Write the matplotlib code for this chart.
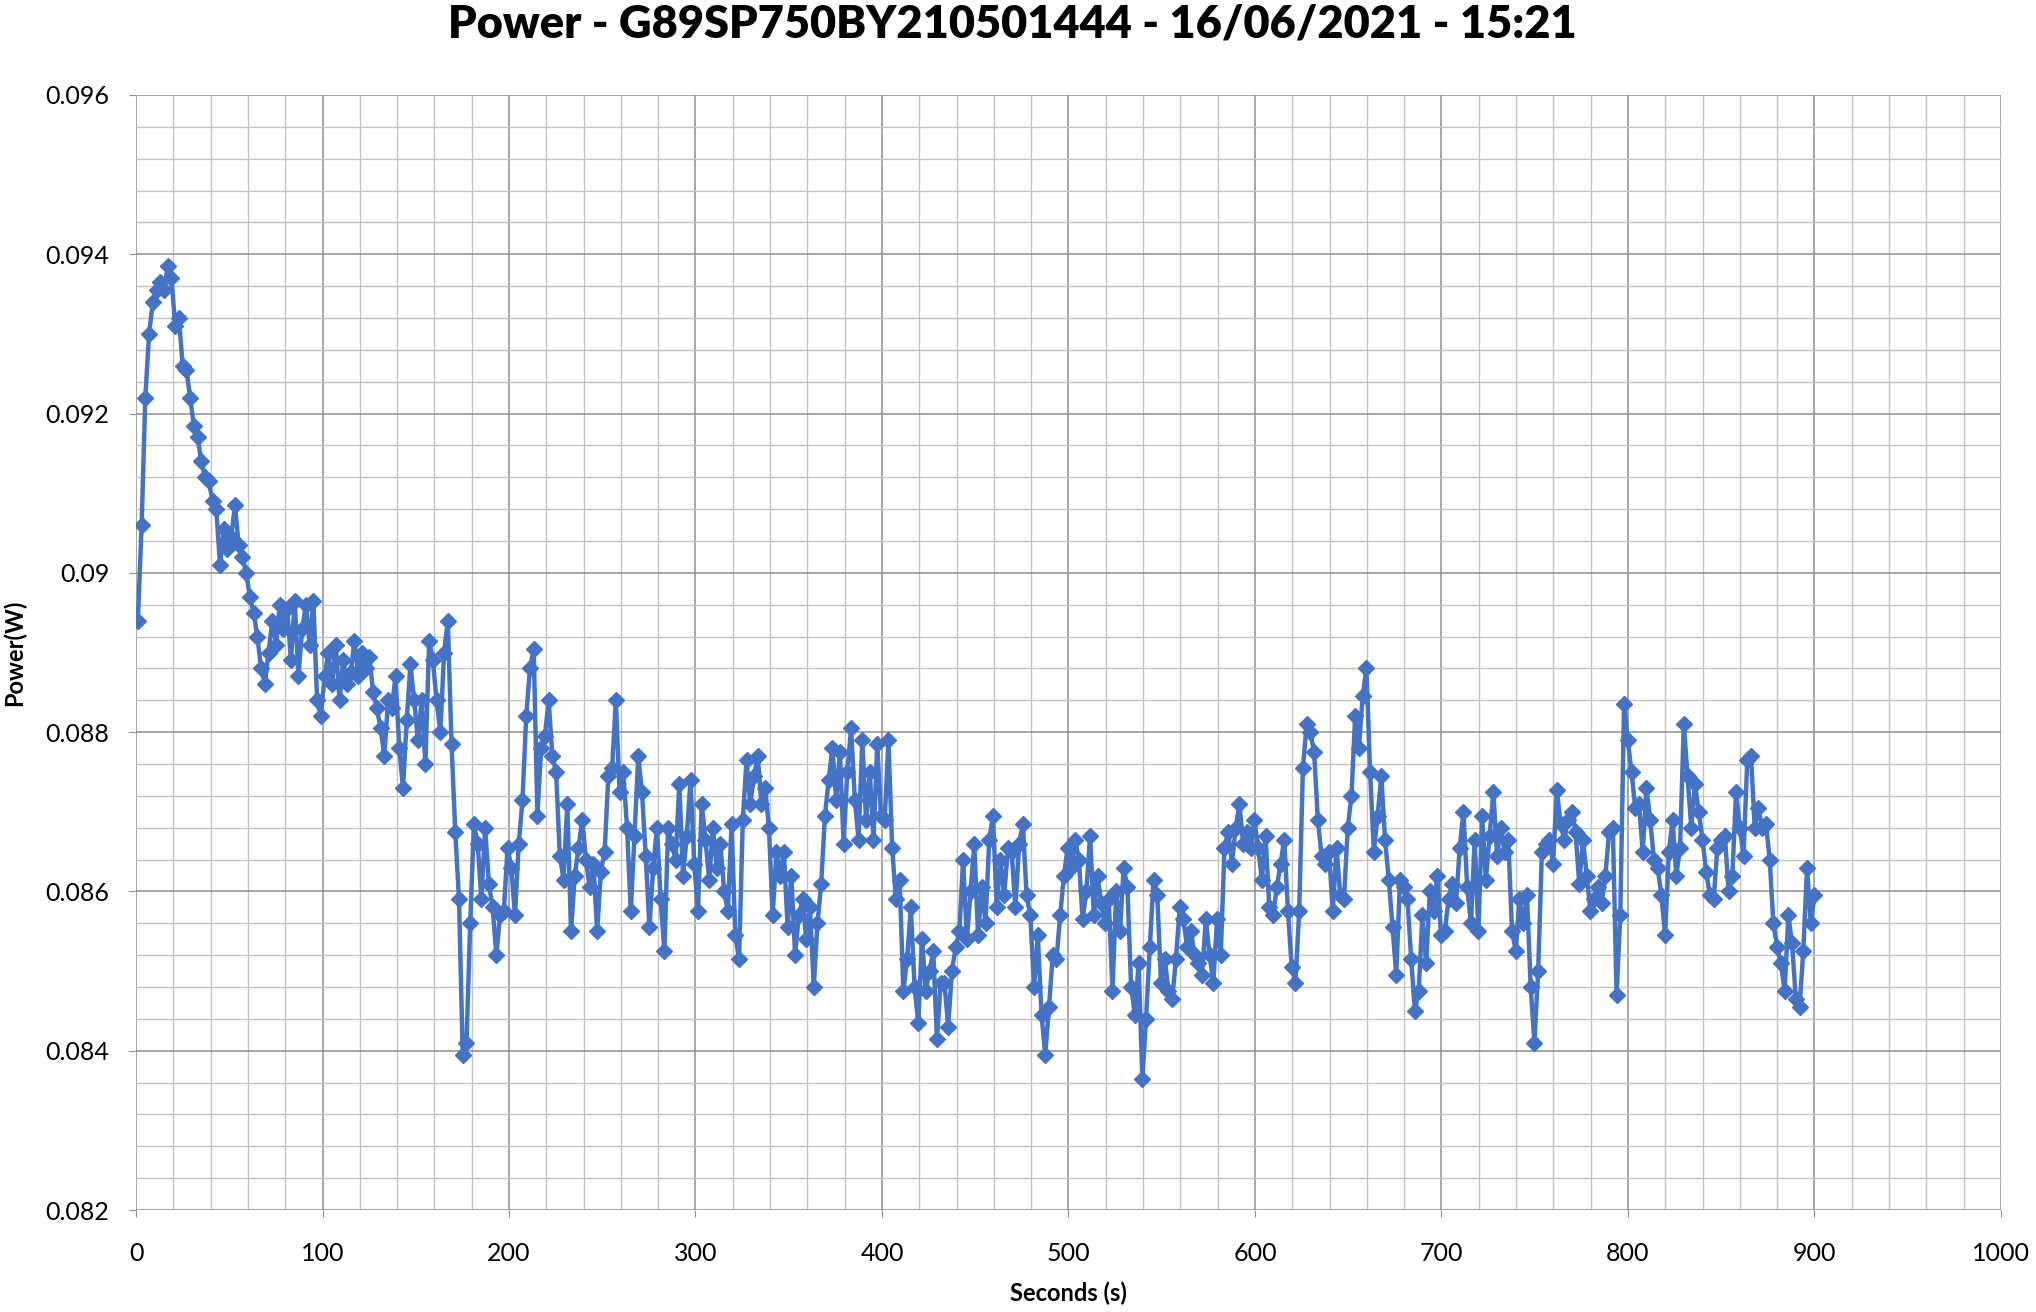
import numpy as np
import matplotlib
matplotlib.use("Agg")
import matplotlib.pyplot as plt
from matplotlib.ticker import MultipleLocator, FixedLocator

# power readings in mW, one every ~2 s from 1 s to 900 s
power_mw = [
    # 0-100 s
    89.4, 90.6, 92.2, 93.0, 93.4, 93.55, 93.65, 93.55, 93.85, 93.7,
    93.1, 93.2, 92.6, 92.55, 92.2, 91.85, 91.7, 91.4, 91.2, 91.15,
    90.9, 90.8, 90.1, 90.55, 90.3, 90.45, 90.85, 90.35, 90.2, 90.0,
    89.7, 89.5, 89.2, 88.8, 88.6, 89.0, 89.4, 89.1, 89.6, 89.3,
    89.55, 88.9, 89.65, 88.7, 89.3, 89.6, 89.1, 89.65, 88.4, 88.2,
    # 100-200 s
    88.7, 89.0, 88.6, 89.1, 88.4, 88.9, 88.6, 88.75, 89.15, 88.7,
    89.0, 88.8, 88.95, 88.5, 88.3, 88.05, 87.7, 88.4, 88.3, 88.7,
    87.8, 87.3, 88.15, 88.85, 88.4, 87.9, 88.4, 87.6, 89.15, 88.9,
    88.4, 88.0, 89.0, 89.4, 87.85, 86.75, 85.9, 83.95, 84.1, 85.6,
    86.85, 86.6, 85.9, 86.8, 86.1, 85.8, 85.2, 85.7, 85.75, 86.55,
    # 200-300 s
    86.3, 85.7, 86.6, 87.15, 88.2, 88.8, 89.05, 86.95, 87.8, 87.95,
    88.4, 87.7, 87.5, 86.45, 86.15, 87.1, 85.5, 86.2, 86.55, 86.9,
    86.4, 86.05, 86.35, 85.5, 86.25, 86.5, 87.45, 87.55, 88.4, 87.25,
    87.5, 86.8, 85.75, 86.7, 87.7, 87.25, 86.45, 85.55, 86.3, 86.8,
    85.9, 85.25, 86.8, 86.6, 86.4, 87.35, 86.2, 86.7, 87.4, 86.35,
    # 300-400 s
    85.75, 87.1, 86.65, 86.15, 86.8, 86.3, 86.6, 86.0, 85.75, 86.85,
    85.45, 85.15, 86.9, 87.65, 87.1, 87.45, 87.7, 87.1, 87.3, 86.8,
    85.7, 86.5, 86.2, 86.5, 85.55, 86.2, 85.2, 85.7, 85.9, 85.4,
    85.8, 84.8, 85.6, 86.1, 86.95, 87.4, 87.8, 87.15, 87.75, 86.6,
    87.5, 88.05, 87.15, 86.65, 87.9, 86.9, 87.5, 86.65, 87.85, 86.95,
    # 400-500 s
    86.9, 87.9, 86.55, 85.9, 86.15, 84.75, 85.15, 85.8, 84.8, 84.35,
    85.4, 84.75, 85.0, 85.25, 84.15, 84.85, 84.85, 84.3, 85.0, 85.3,
    85.5, 86.4, 85.4, 86.0, 86.6, 85.45, 86.05, 85.6, 86.65, 86.95,
    85.8, 86.4, 85.95, 86.55, 86.5, 85.8, 86.6, 86.85, 85.95, 85.7,
    84.8, 85.45, 84.45, 83.95, 84.55, 85.2, 85.15, 85.7, 86.2, 86.55,
    # 500-600 s
    86.3, 86.65, 86.4, 85.65, 86.0, 86.7, 85.7, 86.2, 85.85, 85.6,
    85.9, 84.75, 86.0, 85.5, 86.3, 86.05, 84.8, 84.45, 85.1, 83.65,
    84.4, 85.3, 86.15, 85.95, 84.85, 85.15, 84.75, 84.65, 85.15, 85.8,
    85.65, 85.3, 85.5, 85.2, 85.1, 84.95, 85.65, 85.2, 84.85, 85.65,
    85.2, 86.55, 86.75, 86.35, 86.8, 87.1, 86.6, 86.75, 86.55, 86.9,
    # 600-700 s
    86.55, 86.15, 86.7, 85.8, 85.7, 86.05, 86.35, 86.65, 85.75, 85.05,
    84.85, 85.75, 87.55, 88.1, 88.0, 87.75, 86.9, 86.45, 86.35, 86.5,
    85.75, 86.55, 85.95, 85.9, 86.8, 87.2, 88.2, 87.8, 88.45, 88.8,
    87.5, 86.5, 86.95, 87.45, 86.65, 86.15, 85.55, 84.95, 86.15, 86.05,
    85.9, 85.15, 84.5, 84.75, 85.7, 85.1, 86.0, 85.75, 86.2, 85.45,
    # 700-800 s
    85.5, 85.9, 86.1, 85.85, 86.55, 87.0, 86.05, 85.6, 86.65, 85.5,
    86.95, 86.15, 86.7, 87.25, 86.45, 86.8, 86.5, 86.65, 85.5, 85.25,
    85.9, 85.6, 85.95, 84.8, 84.1, 85.0, 86.5, 86.6, 86.65, 86.35,
    87.28, 86.85, 86.65, 86.9, 87.0, 86.75, 86.1, 86.65, 86.2, 85.75,
    85.9, 86.05, 85.85, 86.2, 86.75, 86.8, 84.7, 85.7, 88.35, 87.9,
    # 800-900 s
    87.5, 87.05, 87.1, 86.5, 87.3, 86.9, 86.4, 86.3, 85.95, 85.45,
    86.5, 86.9, 86.2, 86.55, 88.1, 87.45, 86.8, 87.35, 87.0, 86.65,
    86.25, 85.95, 85.9, 86.55, 86.65, 86.7, 86.0, 86.2, 87.25, 86.8,
    86.45, 87.65, 87.7, 86.8, 87.05, 86.8, 86.85, 86.4, 85.6, 85.3,
    85.1, 84.75, 85.7, 85.35, 84.65, 84.55, 85.25, 86.3, 85.6, 85.95,
]
power = np.array(power_mw) / 1000.0
seconds = np.linspace(1, 900, len(power))

title = "Power - G89SP750BY210501444 - 16/06/2021 - 15:21"
x_ticks = [0, 100, 200, 300, 400, 500, 600, 700, 800, 900, 1000]
y_ticks = [0.082, 0.084, 0.086, 0.088, 0.09, 0.092, 0.094, 0.096]
y_tick_labels = ["0.082", "0.084", "0.086", "0.088", "0.09", "0.092", "0.094", "0.096"]

plt.rcParams['font.family'] = ['Lato', 'DejaVu Sans']

fig = plt.figure(figsize=(20.36, 13.12), dpi=100)
ax = fig.add_axes([0.0668, 0.0777, 0.916, 0.8499])

ax.plot(seconds, power, color='#4472C4', linewidth=3.2, marker='D',
        markersize=8.5, markerfacecolor='#4472C4', markeredgecolor='#4472C4')

ax.set_xlim(0, 1000)
ax.set_ylim(0.082, 0.096)
ax.xaxis.set_major_locator(FixedLocator(x_ticks))
ax.xaxis.set_minor_locator(MultipleLocator(20))
ax.yaxis.set_major_locator(FixedLocator(y_ticks))
ax.yaxis.set_minor_locator(MultipleLocator(0.0004))
ax.set_yticklabels(y_tick_labels)

ax.grid(which='major', color='#8e8e8e', linewidth=1.1)
ax.grid(which='minor', color='#c4c4c4', linewidth=1.0)
ax.set_axisbelow(True)
for s in ax.spines.values():
    s.set_visible(False)
ax.tick_params(which='major', length=5, color='#8e8e8e', labelsize=18, pad=14)
ax.tick_params(which='minor', length=0)
ax.tick_params(axis='x', pad=18)

ax.set_xlabel('Seconds (s)', fontsize=17, fontweight='bold', labelpad=12)
ax.set_ylabel('Power(W)', fontsize=17, fontweight='bold', labelpad=14)
fig.suptitle(title, fontsize=32.5, fontweight='heavy', x=0.497, y=0.997)

fig.savefig('out.png', dpi=100)
